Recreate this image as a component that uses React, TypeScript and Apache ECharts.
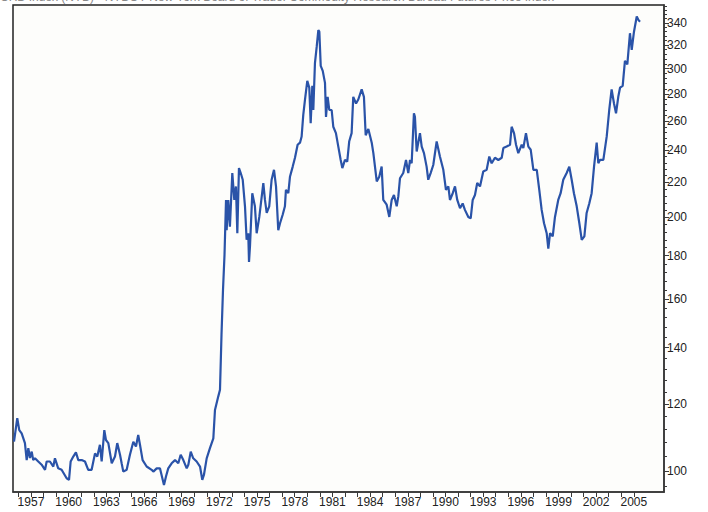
import React, { useEffect, useRef } from "react";
import * as echarts from "echarts";

// Decimal years of the traced points
const years: number[] = [
  1955.65, 1955.91, 1956.07, 1956.26, 1956.52, 1956.66, 1956.79, 1956.92, 1957.06, 1957.18,
  1957.32, 1957.58, 1957.85, 1958.12, 1958.25, 1958.51, 1958.78, 1958.91, 1959.17, 1959.44,
  1959.84, 1960.03, 1960.16, 1960.37, 1960.58, 1960.77, 1961.04, 1961.30, 1961.56, 1961.83,
  1962.10, 1962.28, 1962.49, 1962.63, 1962.84, 1962.97, 1963.16, 1963.43, 1963.69, 1963.87,
  1964.09, 1964.22, 1964.35, 1964.62, 1964.88, 1965.15, 1965.36, 1965.54, 1965.68, 1965.89,
  1966.21, 1966.61, 1966.74, 1967.01, 1967.27, 1967.49, 1967.59, 1967.75, 1967.93, 1968.20,
  1968.47, 1968.73, 1968.92, 1969.13, 1969.40, 1969.53, 1969.72, 1969.92, 1970.19, 1970.46,
  1970.64, 1970.77, 1970.99, 1971.25, 1971.52, 1971.65, 1971.91, 1972.05, 1972.17, 1972.29,
  1972.41, 1972.53, 1972.58, 1972.71, 1972.84, 1973.03, 1973.19, 1973.32, 1973.43, 1973.56,
  1973.70, 1973.86, 1974.04, 1974.17, 1974.30, 1974.36, 1974.44, 1974.62, 1974.83, 1974.97,
  1975.18, 1975.50, 1975.63, 1975.77, 1975.97, 1976.16, 1976.35, 1976.51, 1976.69, 1976.83,
  1977.04, 1977.22, 1977.30, 1977.49, 1977.62, 1977.84, 1978.02, 1978.23, 1978.42, 1978.55,
  1978.68, 1978.82, 1979.00, 1979.16, 1979.27, 1979.40, 1979.48, 1979.61, 1979.75, 1979.88,
  1979.96, 1980.07, 1980.23, 1980.41, 1980.49, 1980.62, 1980.75, 1980.94, 1981.07, 1981.28,
  1981.47, 1981.66, 1981.79, 1982.00, 1982.18, 1982.34, 1982.53, 1982.66, 1982.88, 1983.06,
  1983.33, 1983.51, 1983.65, 1983.86, 1984.13, 1984.26, 1984.53, 1984.73, 1984.92, 1985.05,
  1985.32, 1985.53, 1985.72, 1985.90, 1986.12, 1986.25, 1986.38, 1986.64, 1986.86, 1987.04,
  1987.18, 1987.31, 1987.49, 1987.57, 1987.71, 1987.97, 1988.11, 1988.29, 1988.50, 1988.63,
  1988.82, 1989.03, 1989.30, 1989.56, 1989.83, 1990.04, 1990.23, 1990.36, 1990.58, 1990.76,
  1990.94, 1991.16, 1991.37, 1991.55, 1991.82, 1992.01, 1992.17, 1992.35, 1992.53, 1992.75,
  1993.01, 1993.28, 1993.49, 1993.68, 1993.94, 1994.21, 1994.48, 1994.61, 1994.87, 1995.14,
  1995.27, 1995.46, 1995.62, 1995.80, 1996.07, 1996.20, 1996.41, 1996.60, 1996.79, 1997.00,
  1997.27, 1997.47, 1997.66, 1997.85, 1998.06, 1998.19, 1998.33, 1998.54, 1998.72, 1998.98,
  1999.17, 1999.38, 1999.65, 1999.86, 2000.05, 2000.23, 2000.45, 2000.66, 2000.85, 2001.06,
  2001.24, 2001.45, 2001.64, 2001.83, 2002.04, 2002.17, 2002.30, 2002.57, 2002.84, 2003.04,
  2003.23, 2003.42, 2003.58, 2003.76, 2003.90, 2004.11, 2004.29, 2004.48, 2004.69, 2004.83,
  2005.01, 2005.23, 2005.36, 2005.49,
];

// Index values
const values: number[] = [
  108.3, 115.5, 111.8, 110.8, 107.9, 103.0, 106.4, 103.6, 105.4, 103.0,
  103.5, 102.6, 101.7, 100.3, 102.6, 102.6, 101.2, 103.5, 100.7, 100.3,
  98.0, 97.6, 102.6, 104.0, 105.2, 103.0, 103.0, 102.6, 100.3, 100.3,
  104.9, 104.0, 107.4, 102.6, 111.8, 108.8, 107.9, 102.1, 104.0, 107.9,
  104.5, 102.1, 99.8, 100.3, 104.5, 108.3, 106.9, 110.3, 107.4, 103.0,
  101.2, 100.3, 99.8, 100.7, 100.7, 97.6, 96.2, 98.5, 100.7, 102.1,
  103.0, 102.1, 104.5, 103.0, 100.7, 101.7, 105.4, 103.5, 102.6, 101.2,
  97.6, 98.9, 103.5, 106.4, 109.3, 118.1, 122.5, 124.8, 145.0, 164.0,
  180.5, 209.6, 193.0, 209.6, 194.9, 225.6, 209.6, 217.5, 191.4, 228.7,
  225.6, 221.5, 206.0, 188.0, 191.4, 177.0, 185.0, 213.5, 206.0, 191.4,
  200.1, 219.5, 209.6, 202.3, 206.0, 221.5, 227.6, 217.5, 193.0, 196.7,
  201.3, 206.0, 215.5, 213.5, 223.3, 229.6, 235.2, 243.7, 245.1, 249.3,
  264.5, 275.8, 290.2, 284.8, 258.5, 286.3, 268.0, 304.6, 318.6, 333.3,
  331.9, 302.3, 298.2, 288.6, 263.0, 277.8, 268.0, 268.0, 256.0, 251.6,
  242.5, 233.8, 228.7, 233.8, 232.7, 246.1, 251.6, 277.8, 272.8, 275.8,
  283.5, 277.8, 250.1, 254.5, 245.1, 238.2, 220.5, 223.3, 229.6, 209.6,
  206.9, 200.1, 209.6, 212.5, 206.0, 211.8, 222.4, 225.6, 233.8, 225.6,
  233.8, 231.7, 265.6, 263.0, 239.3, 251.6, 242.5, 238.2, 229.6, 221.5,
  225.6, 230.6, 245.9, 236.0, 227.6, 215.5, 217.5, 209.6, 213.5, 217.5,
  209.6, 204.9, 207.6, 204.0, 200.1, 199.3, 209.6, 212.5, 219.5, 217.5,
  226.6, 227.6, 236.0, 231.7, 235.2, 233.8, 235.2, 241.5, 242.5, 243.7,
  256.0, 251.6, 243.7, 238.2, 243.7, 241.5, 251.6, 242.5, 240.4, 227.6,
  227.6, 215.5, 204.0, 196.7, 191.4, 183.5, 191.4, 189.8, 200.1, 209.6,
  213.5, 221.5, 225.6, 229.6, 221.5, 213.5, 206.0, 196.7, 188.0, 189.8,
  202.3, 207.6, 213.5, 229.6, 245.1, 231.7, 233.8, 233.8, 249.3, 268.0,
  283.5, 272.8, 265.6, 277.8, 284.8, 286.3, 306.4, 303.5, 330.5, 315.9,
  331.9, 346.0, 342.8, 341.0,
];

// Axis tick labels
const xLabelYears: number[] = [1957, 1960, 1963, 1966, 1969, 1972, 1975, 1978, 1981, 1984, 1987, 1990, 1993, 1996, 1999, 2002, 2005];
const xTickYears: number[] = [
  1956, 1957, 1958, 1959, 1960, 1961, 1962, 1963, 1964, 1965, 1966, 1967, 1968, 1969, 1970,
  1971, 1972, 1973, 1974, 1975, 1976, 1977, 1978, 1979, 1980, 1981, 1982, 1983, 1984, 1985,
  1986, 1987, 1988, 1989, 1990, 1991, 1992, 1993, 1994, 1995, 1996, 1997, 1998, 1999, 2000,
  2001, 2002, 2003, 2004, 2005,
];
const yLabelValues: number[] = [100, 120, 140, 160, 180, 200, 220, 240, 260, 280, 300, 320, 340];
const yMinorValues: number[] = [
  96, 104, 108, 112, 116, 124, 128, 132, 136, 144, 148, 152, 156, 164, 168, 172, 176,
  184, 188, 192, 196, 204, 208, 212, 216, 224, 228, 232, 236, 244, 248, 252, 256,
  264, 268, 272, 276, 284, 288, 292, 296, 304, 308, 312, 316, 324, 328, 332, 336, 344, 348, 352, 356,
];

const titleText = "CRB Index (NYB) - NYBOT New York Board of Trade: Commodity Research Bureau Futures Price Index";

export default function App() {
  const ref = useRef<HTMLDivElement>(null);
  useEffect(() => {
    if (!ref.current) return;
    const chart = echarts.init(ref.current, null, { renderer: "svg" });
    const yMin = 94.4;
    const yMax = 357;
    const axisColor = "#3a3a3a";
    chart.setOption({
      animation: false,
      backgroundColor: "#ffffff",
      textStyle: { fontFamily: "Liberation Sans, Arial, sans-serif" },
      graphic: [
        {
          type: "text",
          left: 0,
          top: -9,
          style: {
            text: titleText,
            fill: "#8a8a8a",
            font: "12px 'Liberation Sans', Arial, sans-serif",
          },
        },
      ],
      grid: {
        left: 13,
        top: 5,
        right: 44,
        bottom: 20,
        show: true,
        borderColor: "#222",
        borderWidth: 1.5,
        backgroundColor: "#fdfdfb",
      },
      xAxis: {
        type: "value",
        min: 1955.57,
        max: 2007.4,
        splitLine: { show: false },
        axisLine: { show: true, onZero: false, lineStyle: { color: axisColor, width: 1.5 } },
        axisTick: {
          show: true,
          customValues: xTickYears,
          length: 5,
          lineStyle: { color: axisColor },
        },
        axisLabel: {
          customValues: xLabelYears,
          formatter: (v: number) => String(v),
          color: "#222",
          fontSize: 12,
          margin: 4,
        },
      },
      yAxis: [
        {
          type: "log",
          position: "right",
          min: yMin,
          max: yMax,
          splitLine: { show: false },
          axisLine: { show: true, lineStyle: { color: axisColor, width: 1.5 } },
          axisTick: {
            show: true,
            customValues: yLabelValues,
            length: 5,
            lineStyle: { color: axisColor },
          },
          axisLabel: {
            customValues: yLabelValues,
            formatter: (v: number) => String(Math.round(v)),
            color: "#222",
            fontSize: 12,
            margin: 3,
          },
        },
        {
          type: "log",
          position: "right",
          min: yMin,
          max: yMax,
          splitLine: { show: false },
          axisLine: { show: false },
          axisTick: {
            show: true,
            customValues: yMinorValues,
            length: 3,
            lineStyle: { color: axisColor },
          },
          axisLabel: { show: false },
        },
      ],
      series: [
        {
          type: "line",
          data: years.map((y, i) => [y, values[i]]),
          yAxisIndex: 0,
          showSymbol: false,
          lineStyle: { color: "#2a53a8", width: 2.2 },
          itemStyle: { color: "#2a53a8" },
        },
      ],
    });
    return () => chart.dispose();
  }, []);
  return (
    <div
      ref={ref}
      style={{ position: "fixed", left: 0, top: 0, width: 708, height: 512 }}
    />
  );
}
